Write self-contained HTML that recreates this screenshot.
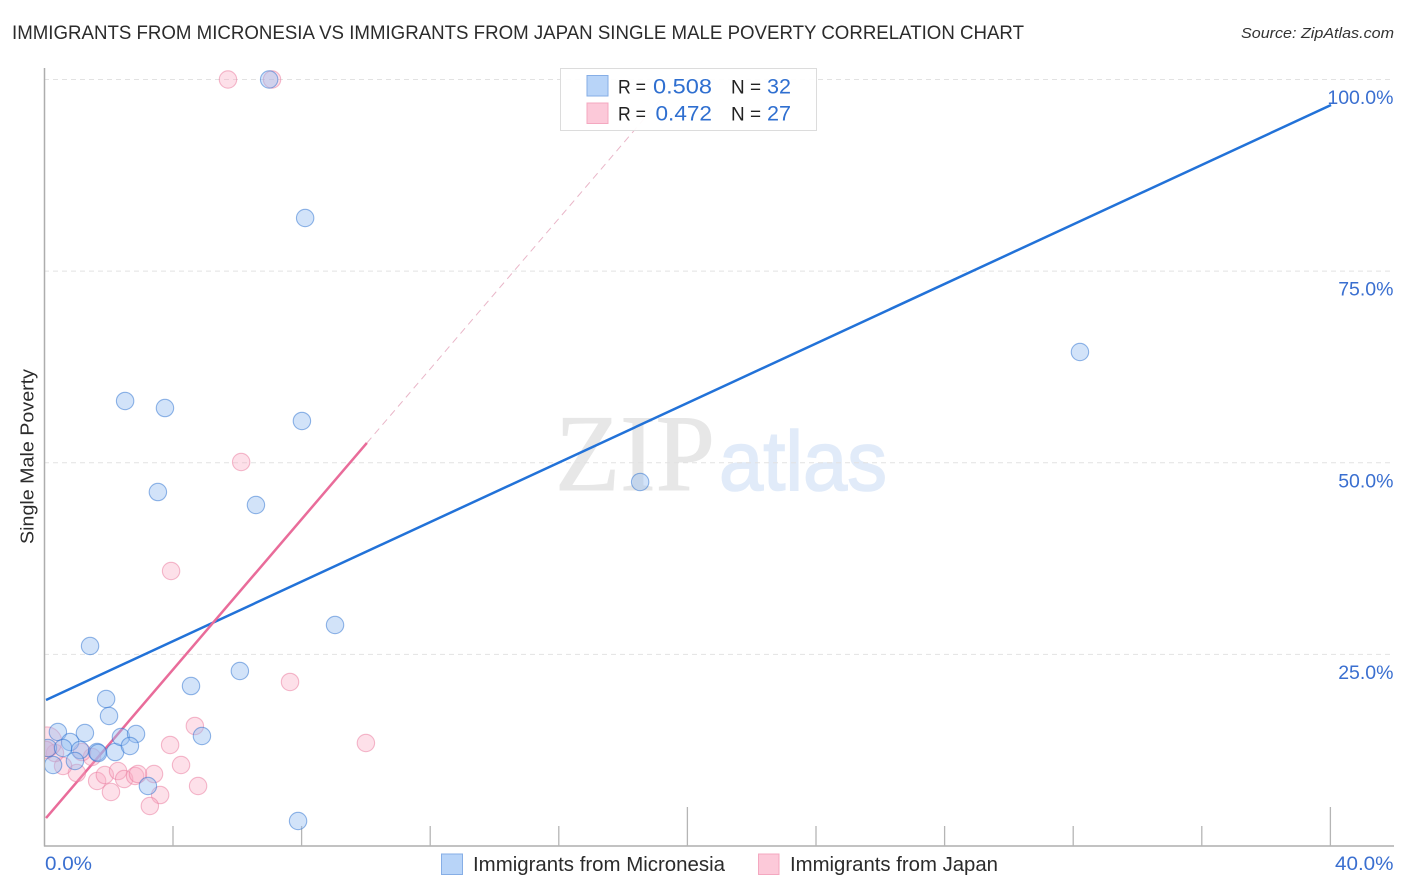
<!DOCTYPE html>
<html lang="en">
<head>
<meta charset="utf-8">
<title>Immigrants from Micronesia vs Immigrants from Japan Single Male Poverty Correlation Chart</title>
<style>
html,body{margin:0;padding:0;background:#fff;width:1406px;height:892px;overflow:hidden}
svg{display:block}
text{font-family:"Liberation Sans",sans-serif}
</style>
</head>
<body>
<svg id="chart" xmlns="http://www.w3.org/2000/svg" width="1406" height="892" viewBox="0 0 1406 892">
  <defs>
    <clipPath id="plot-clip"><rect x="45" y="60" width="1350" height="786"/></clipPath>
  </defs>
  <rect x="0" y="0" width="1406" height="892" fill="#ffffff"/>
  <text x="12" y="39" font-size="19.5" fill="#2b2b2b" textLength="1012" lengthAdjust="spacingAndGlyphs">IMMIGRANTS FROM MICRONESIA VS IMMIGRANTS FROM JAPAN SINGLE MALE POVERTY CORRELATION CHART</text>
  <text x="1241" y="38" font-size="15" font-style="italic" fill="#333333" textLength="153" lengthAdjust="spacingAndGlyphs">Source: ZipAtlas.com</text>

  <g id="watermark">
    <text x="555" y="490" style="font-family:'Liberation Serif',serif" font-size="109" fill="#e7e7e7" stroke="#e7e7e7" stroke-width="1" textLength="160" lengthAdjust="spacingAndGlyphs">ZIP</text>
    <text x="719" y="490" font-size="84" fill="#e1ebf9" stroke="#e1ebf9" stroke-width="1.6" textLength="168" lengthAdjust="spacingAndGlyphs">atlas</text>
  </g>

  <g id="grid"></g>
  <g id="axes"></g>
  <g id="lines"></g>
  <g id="points-japan" clip-path="url(#plot-clip)"></g>
  <g id="points-micronesia" clip-path="url(#plot-clip)"></g>
  <g id="tick-labels"></g>

  <text transform="translate(33.5,456.5) rotate(-90)" text-anchor="middle" font-size="18" fill="#2b2b2b" textLength="175" lengthAdjust="spacingAndGlyphs">Single Male Poverty</text>

  <g>
    <rect x="560.5" y="68.5" width="256" height="62" fill="#ffffff" fill-opacity="0.93" stroke="#dcdcdc" stroke-width="1"/>
    <rect x="587" y="75.5" width="21" height="20.5" fill="#b8d4f8" stroke="#86aee6" stroke-width="1"/>
    <rect x="587" y="103" width="21" height="20.5" fill="#fcc9d9" stroke="#f4a8c0" stroke-width="1"/>
    <text x="618" y="93.5" font-size="19.5" fill="#222222" textLength="28" lengthAdjust="spacingAndGlyphs">R =</text>
    <text x="653" y="93.5" font-size="21" fill="#2f6fd0" textLength="59" lengthAdjust="spacingAndGlyphs">0.508</text>
    <text x="731" y="93.5" font-size="19.5" fill="#222222" textLength="30" lengthAdjust="spacingAndGlyphs">N =</text>
    <text x="767" y="93.5" font-size="21" fill="#2f6fd0" textLength="24" lengthAdjust="spacingAndGlyphs">32</text>
    <text x="618" y="120.5" font-size="19.5" fill="#222222" textLength="28" lengthAdjust="spacingAndGlyphs">R =</text>
    <text x="655.5" y="120.5" font-size="21" fill="#2f6fd0" textLength="56.5" lengthAdjust="spacingAndGlyphs">0.472</text>
    <text x="731" y="120.5" font-size="19.5" fill="#222222" textLength="30" lengthAdjust="spacingAndGlyphs">N =</text>
    <text x="767" y="120.5" font-size="21" fill="#2f6fd0" textLength="24" lengthAdjust="spacingAndGlyphs">27</text>
  </g>

  <g>
    <rect x="441.5" y="854" width="21" height="20.5" fill="#b8d4f8" stroke="#86aee6" stroke-width="1"/>
    <text x="473" y="871" font-size="20" fill="#2b2b2b" textLength="252" lengthAdjust="spacingAndGlyphs">Immigrants from Micronesia</text>
    <rect x="758.5" y="854" width="20.5" height="20.5" fill="#fcc9d9" stroke="#f4a8c0" stroke-width="1"/>
    <text x="790" y="871" font-size="20" fill="#2b2b2b" textLength="208" lengthAdjust="spacingAndGlyphs">Immigrants from Japan</text>
  </g>
</svg>

<script>
// Chart data
const xTickValues = [0, 4, 8, 12, 16, 20, 24, 28, 32, 36, 40];
const xMajorTicks = [20, 40];
const yGridValues = [25, 50, 75, 100];
const yTickLabels = ["25.0%", "50.0%", "75.0%", "100.0%"];
const xTickLabels = ["0.0%", "40.0%"];

const micronesiaX = [6.99, 8.11, 32.21, 2.51, 3.75, 8.01, 18.53, 3.53, 6.58, 9.04, 1.42, 6.08, 4.56, 1.92, 2.01, 0.42, 1.26, 0.80, 0.11, 0.58, 1.11, 1.64, 1.67, 2.20, 2.38, 2.85, 2.66, 0.95, 0.27, 3.22, 4.90, 7.89];
const micronesiaY = [100, 81.93, 64.45, 58.06, 57.14, 55.45, 47.49, 46.18, 44.49, 28.83, 26.09, 22.83, 20.87, 19.18, 16.96, 14.87, 14.74, 13.57, 12.79, 12.79, 12.52, 12.26, 12.13, 12.26, 14.22, 14.61, 13.05, 11.09, 10.57, 7.83, 14.35, 3.26];

const japanX = [5.71, 7.08, 6.12, 3.94, 7.64, 4.68, 10.0, 3.91, 4.25, 4.78, 3.41, 3.60, 3.28, 2.07, 1.64, 1.88, 2.29, 2.48, 2.82, 2.91, 1.01, 0.58, 1.48, 1.17, 0.33, 0.08, 0.05];
const japanY = [100, 100, 50.1, 35.88, 21.4, 15.66, 13.44, 13.18, 10.57, 7.83, 9.39, 6.65, 5.22, 7.05, 8.48, 9.26, 9.78, 8.74, 9.13, 9.39, 9.52, 10.44, 11.61, 12.26, 12.13, 13.6, 12.52];
const japanSize = [1, 1, 1, 1, 1, 1, 1, 1, 1, 1, 1, 1, 1, 1, 1, 1, 1, 1, 1, 1, 1, 1, 1, 1, 1, 1.7, 1];

const micronesiaTrendX = [0.05, 40.02];
const micronesiaTrendY = [19.05, 96.67];
const japanTrendX = [0.05, 10.03];
const japanTrendY = [3.65, 52.58];
const japanTrendExtendX = [10.03, 19.7];
const japanTrendExtendY = [52.58, 100];

// Axis functions
function sx(v) { return 44.4 + v * 32.15; }
function sy(v) { return 846 - v * 7.665; }

const NS = 'http://www.w3.org/2000/svg';
function make(tag, parent, attrs) {
  const el = document.createElementNS(NS, tag);
  for (const k in attrs) el.setAttribute(k, attrs[k]);
  parent.appendChild(el);
  return el;
}

// Gridlines
const gridG = document.getElementById('grid');
yGridValues.forEach(function (v) {
  const el = make('line', gridG, { x1: 44, x2: 1394, y1: sy(v), y2: sy(v), stroke: '#e2e2e2', 'stroke-width': 1, 'stroke-dasharray': '5 4' });
  
  
});

// Axes and ticks
const axesG = document.getElementById('axes');
const yAxisLine = make('line', axesG, { x1: 44.5, x2: 44.5, y1: 68, y2: 846.5, stroke: '#adadad', 'stroke-width': 1.5 });


const xAxisLine = make('line', axesG, { x1: 44, x2: 1394, y1: 846, y2: 846, stroke: '#adadad', 'stroke-width': 1.5 });


xTickValues.forEach(function (v) {
  if (v === 0) return;
  const top = xMajorTicks.indexOf(v) >= 0 ? 807 : 826;
  const el = make('line', axesG, { x1: sx(v), x2: sx(v), y1: top, y2: 846, stroke: '#b5b5b5', 'stroke-width': 1.3 });
  
  
});

// Trend lines
const linesG = document.getElementById('lines');
const japanDash = make('line', linesG, { x1: sx(japanTrendExtendX[0]), y1: sy(japanTrendExtendY[0]), x2: sx(japanTrendExtendX[1]), y2: sy(japanTrendExtendY[1]), stroke: '#e9b6c8', 'stroke-width': 1, 'stroke-dasharray': '7 5' });


const microLine = make('line', linesG, { x1: sx(micronesiaTrendX[0]), y1: sy(micronesiaTrendY[0]), x2: sx(micronesiaTrendX[1]), y2: sy(micronesiaTrendY[1]), stroke: '#2272d8', 'stroke-width': 2.5 });


const japanLine = make('line', linesG, { x1: sx(japanTrendX[0]), y1: sy(japanTrendY[0]), x2: sx(japanTrendX[1]), y2: sy(japanTrendY[1]), stroke: '#e96c9a', 'stroke-width': 2.5 });



// Points
const japanG = document.getElementById('points-japan');
japanX.forEach(function (v, i) {
  const el = make('circle', japanG, { cx: sx(v), cy: sy(japanY[i]), r: 8.7 * japanSize[i], fill: '#f9a9c2', 'fill-opacity': 0.36, stroke: '#e9779c', 'stroke-opacity': 0.5, 'stroke-width': 1.1 });
  
  
});
const microG = document.getElementById('points-micronesia');
micronesiaX.forEach(function (v, i) {
  const el = make('circle', microG, { cx: sx(v), cy: sy(micronesiaY[i]), r: 8.7, fill: '#93bdf0', 'fill-opacity': 0.42, stroke: '#2a70cf', 'stroke-opacity': 0.5, 'stroke-width': 1.1 });
  
  
});

// Tick labels
const labelsG = document.getElementById('tick-labels');
yGridValues.forEach(function (v, i) {
  const el = make('text', labelsG, { x: 1393.5, y: sy(v) + 24.5, 'text-anchor': 'end', 'font-size': 19.5, fill: '#3a6fd0' });
  
  
  el.textContent = yTickLabels[i];
});
const xLabel0 = make('text', labelsG, { x: 45, y: 870, 'font-size': 19.5, fill: '#3a6fd0', textLength: 47, lengthAdjust: 'spacingAndGlyphs' });


xLabel0.textContent = xTickLabels[0];
const xLabel1 = make('text', labelsG, { x: 1335, y: 870, 'font-size': 19.5, fill: '#3a6fd0', textLength: 58.5, lengthAdjust: 'spacingAndGlyphs' });


xLabel1.textContent = xTickLabels[1];
</script>
</body>
</html>
